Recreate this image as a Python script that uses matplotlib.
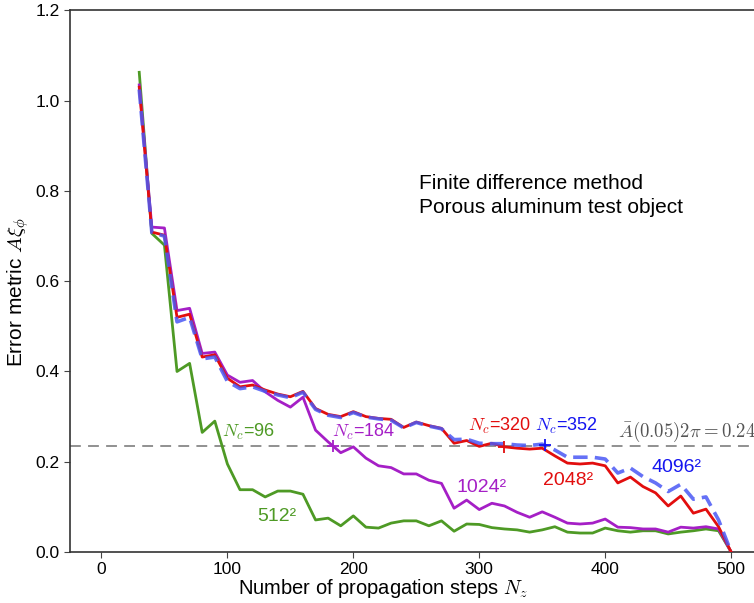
import numpy as np
import matplotlib
matplotlib.use("Agg")
import matplotlib.pyplot as plt

plt.rcParams['font.family'] = ['Liberation Sans', 'DejaVu Sans']
plt.rcParams['mathtext.fontset'] = 'cm'

steps = np.arange(30, 501, 10)

err_512 = [1.063, 0.706, 0.68, 0.40, 0.418, 0.265, 0.29, 0.195,
           0.138, 0.138, 0.122, 0.135, 0.135, 0.128, 0.071, 0.075, 0.058, 0.08,
           0.055, 0.053, 0.064, 0.069, 0.069, 0.058, 0.069, 0.046, 0.062, 0.061,
           0.054, 0.051, 0.049, 0.044, 0.049, 0.056, 0.044, 0.042, 0.042, 0.053,
           0.047, 0.044, 0.047, 0.047, 0.040, 0.044, 0.047, 0.051, 0.047, 0.0]
err_1024 = [1.035, 0.72, 0.718, 0.535, 0.54, 0.44, 0.443, 0.392,
            0.376, 0.38, 0.355, 0.336, 0.321, 0.343, 0.27, 0.244, 0.22, 0.233,
            0.208, 0.191, 0.187, 0.173, 0.173, 0.159, 0.152, 0.097, 0.115, 0.094,
            0.108, 0.102, 0.088, 0.077, 0.089, 0.077, 0.064, 0.062, 0.064, 0.073,
            0.055, 0.054, 0.051, 0.051, 0.044, 0.055, 0.053, 0.056, 0.051, 0.0]
err_2048 = [1.03, 0.709, 0.702, 0.52, 0.527, 0.432, 0.437, 0.385,
            0.366, 0.37, 0.359, 0.35, 0.344, 0.356, 0.318, 0.305, 0.30, 0.311,
            0.30, 0.296, 0.294, 0.276, 0.288, 0.28, 0.274, 0.241, 0.247, 0.234,
            0.241, 0.233, 0.230, 0.228, 0.230, 0.213, 0.197, 0.195, 0.197, 0.191,
            0.153, 0.166, 0.145, 0.131, 0.102, 0.124, 0.086, 0.095, 0.056, 0.0]
err_4096 = [1.025, 0.708, 0.70, 0.51, 0.52, 0.428, 0.432, 0.378,
            0.362, 0.366, 0.356, 0.348, 0.342, 0.354, 0.316, 0.303, 0.298, 0.309,
            0.299, 0.295, 0.292, 0.275, 0.287, 0.279, 0.273, 0.249, 0.25, 0.241,
            0.24, 0.24, 0.237, 0.236, 0.239, 0.226, 0.21, 0.21, 0.21, 0.206,
            0.175, 0.186, 0.167, 0.153, 0.134, 0.15, 0.117, 0.122, 0.071, 0.0]

threshold = 0.235
nc_steps = [96, 184, 320, 352]

green = '#4e9a25'
purple = '#a51fc6'
red = '#e20e0e'
blue = '#4a58f5'
blue_text = '#1414f0'

fig = plt.figure(figsize=(7.54, 6.03), dpi=100)
ax = fig.add_axes([0.0928, 0.0846, 0.927, 0.898])

ax.axhline(threshold, color='#888888', lw=1.3, dashes=(6, 4), zorder=1)
ax.plot(steps, err_512, color=green, lw=2, zorder=2)
ax.plot(steps, err_1024, color=purple, lw=2, zorder=3)
ax.plot(steps, err_2048, color=red, lw=2, zorder=4)
ax.plot(steps, err_4096, color=blue, lw=2.6, alpha=0.85, dashes=(4, 2), zorder=5)

ax.plot(nc_steps[1], threshold, marker='+', color=purple, ms=9, mew=1.3, zorder=6)
ax.plot(nc_steps[2], 0.233, marker='+', color=red, ms=9, mew=1.3, zorder=6)
ax.plot(nc_steps[3], 0.238, marker='+', color=blue_text, ms=9, mew=1.3, zorder=6)

ax.text(96, 0.265, r'$N_c$=96', color=green, fontsize=13, va='center')
ax.text(183, 0.265, r'$N_c$=184', color=purple, fontsize=13, va='center')
ax.text(291, 0.279, r'$N_c$=320', color=red, fontsize=13, va='center')
ax.text(344, 0.279, r'$N_c$=352', color=blue_text, fontsize=13, va='center')
ax.text(410, 0.265, r'$\bar{A}(0.05)2\pi = 0.245$', color='#555555', fontsize=13.5, va='center')

ax.text(124, 0.078, '512²', color=green, fontsize=14, va='center')
ax.text(282, 0.142, '1024²', color=purple, fontsize=14, va='center')
ax.text(351, 0.159, '2048²', color=red, fontsize=14, va='center')
ax.text(437, 0.188, '4096²', color=blue_text, fontsize=14, va='center')

ax.text(252, 0.817, 'Finite difference method', fontsize=15, va='center')
ax.text(252, 0.764, 'Porous aluminum test object', fontsize=15, va='center')

ax.set_xlim(-25, 530)
ax.set_ylim(0, 1.2)
ax.set_xticks([0, 100, 200, 300, 400, 500])
ax.set_yticks([0.0, 0.2, 0.4, 0.6, 0.8, 1.0, 1.2])
ax.set_yticklabels(['0.0', '0.2', '0.4', '0.6', '0.8', '1.0', '1.2'])
ax.tick_params(labelsize=12.5, direction='out', length=4, color='#444444')
ax.spines['right'].set_visible(False)
for s in ['left', 'bottom', 'top']:
    ax.spines[s].set_color('#333333')
    ax.spines[s].set_linewidth(1.2)

ax.set_xlabel(r'Number of propagation steps $N_z$', fontsize=14.5)
ax.set_ylabel(r'Error metric $A\xi_\phi$', fontsize=15)
ax.xaxis.set_label_coords(0.448, -0.046)
ax.yaxis.set_label_coords(-0.056, 0.48)

fig.savefig('out.png', dpi=100)
